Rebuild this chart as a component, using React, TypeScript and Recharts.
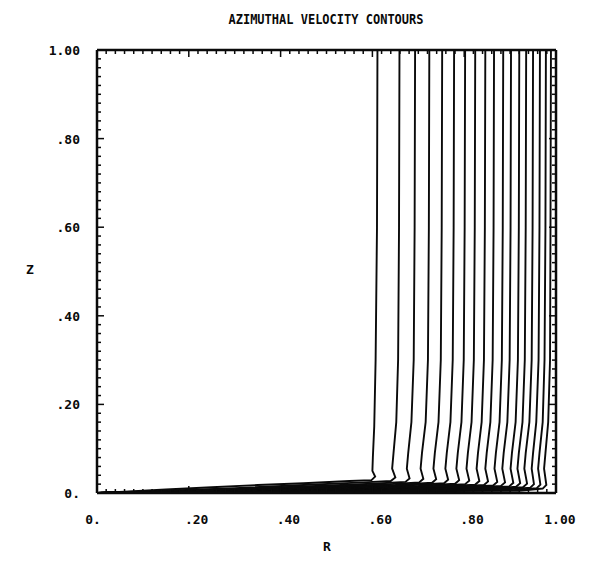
import React from 'react';
import { LineChart, Line, XAxis, YAxis } from 'recharts';

const TITLE = 'AZIMUTHAL VELOCITY CONTOURS';
const MAJOR_TICKS = [0, 0.2, 0.4, 0.6, 0.8, 1.0];
const R_LABELS = ['0.', '.20', '.40', '.60', '.80', '1.00'];
const Z_LABELS = ['0.', '.20', '.40', '.60', '.80', '1.00'];
// minor tick marks every .02 on all four sides of the frame
const MINOR_TICKS = Array.from({ length: 51 }, (_, i) => (i * 2) / 100);

// contour lines, [R, Z], top of the line first
const C01 = [[0.611, 1], [0.61, 0.6], [0.607, 0.3], [0.604, 0.15], [0.601, 0.08], [0.6, 0.05], [0.606, 0.037], [0.598, 0.029], [0.55, 0.027], [0.45, 0.022], [0.35, 0.018], [0.25, 0.013], [0.15, 0.008], [0.06, 0.003], [0, 0]];
const C02 = [[0.659, 1], [0.658, 0.6], [0.656, 0.3], [0.652, 0.16], [0.646, 0.09], [0.643, 0.055], [0.65, 0.035], [0.64, 0.027], [0.58, 0.024], [0.45, 0.018], [0.3, 0.011], [0.15, 0.005], [0, 0]];
const C03 = [[0.693, 1], [0.692, 0.6], [0.69, 0.3], [0.685, 0.16], [0.678, 0.09], [0.675, 0.055], [0.681, 0.033], [0.672, 0.025], [0.6, 0.021], [0.45, 0.015], [0.3, 0.009], [0.15, 0.004], [0, 0]];
const C04 = [[0.724, 1], [0.723, 0.6], [0.721, 0.3], [0.716, 0.16], [0.708, 0.09], [0.705, 0.055], [0.711, 0.032], [0.702, 0.024], [0.62, 0.019], [0.45, 0.013], [0.3, 0.008], [0.15, 0.004], [0, 0]];
const C05 = [[0.752, 1], [0.751, 0.6], [0.749, 0.3], [0.744, 0.16], [0.736, 0.09], [0.733, 0.055], [0.739, 0.031], [0.73, 0.023], [0.65, 0.018], [0.45, 0.011], [0.3, 0.007], [0.15, 0.003], [0, 0]];
const C06 = [[0.778, 1], [0.777, 0.6], [0.775, 0.3], [0.77, 0.16], [0.762, 0.09], [0.759, 0.055], [0.765, 0.03], [0.756, 0.022], [0.67, 0.017], [0.5, 0.011], [0.3, 0.006], [0.15, 0.003], [0, 0]];
const C07 = [[0.802, 1], [0.801, 0.6], [0.799, 0.3], [0.794, 0.16], [0.786, 0.09], [0.783, 0.055], [0.789, 0.029], [0.78, 0.021], [0.7, 0.016], [0.5, 0.01], [0.3, 0.005], [0.15, 0.002], [0, 0]];
const C08 = [[0.824, 1], [0.823, 0.6], [0.821, 0.3], [0.816, 0.16], [0.808, 0.09], [0.805, 0.055], [0.811, 0.028], [0.802, 0.02], [0.72, 0.015], [0.5, 0.009], [0.3, 0.005], [0.15, 0.002], [0, 0]];
const C09 = [[0.846, 1], [0.845, 0.6], [0.843, 0.3], [0.838, 0.16], [0.83, 0.09], [0.827, 0.055], [0.833, 0.027], [0.824, 0.019], [0.74, 0.014], [0.5, 0.008], [0.3, 0.004], [0.15, 0.002], [0, 0]];
const C10 = [[0.865, 1], [0.864, 0.6], [0.862, 0.3], [0.857, 0.16], [0.849, 0.09], [0.846, 0.055], [0.852, 0.026], [0.843, 0.018], [0.76, 0.013], [0.5, 0.007], [0.3, 0.004], [0.15, 0.002], [0, 0]];
const C11 = [[0.885, 1], [0.884, 0.6], [0.882, 0.3], [0.877, 0.16], [0.869, 0.09], [0.866, 0.055], [0.872, 0.025], [0.863, 0.017], [0.78, 0.012], [0.5, 0.006], [0.3, 0.003], [0.15, 0.001], [0, 0]];
const C12 = [[0.902, 1], [0.901, 0.6], [0.899, 0.3], [0.894, 0.16], [0.886, 0.09], [0.883, 0.055], [0.889, 0.024], [0.88, 0.016], [0.8, 0.011], [0.5, 0.006], [0.3, 0.003], [0.15, 0.001], [0, 0]];
const C13 = [[0.92, 1], [0.919, 0.6], [0.917, 0.3], [0.912, 0.16], [0.904, 0.09], [0.901, 0.055], [0.907, 0.023], [0.898, 0.015], [0.82, 0.01], [0.5, 0.005], [0.3, 0.003], [0.15, 0.001], [0, 0]];
const C14 = [[0.935, 1], [0.934, 0.6], [0.932, 0.3], [0.927, 0.16], [0.919, 0.09], [0.916, 0.055], [0.922, 0.022], [0.913, 0.014], [0.84, 0.009], [0.5, 0.005], [0.3, 0.002], [0.15, 0.001], [0, 0]];
const C15 = [[0.95, 1], [0.949, 0.6], [0.947, 0.3], [0.942, 0.16], [0.934, 0.09], [0.931, 0.055], [0.937, 0.021], [0.928, 0.013], [0.86, 0.008], [0.5, 0.004], [0.3, 0.002], [0.15, 0.001], [0, 0]];
const C16 = [[0.965, 1], [0.964, 0.6], [0.962, 0.3], [0.957, 0.16], [0.95, 0.09], [0.947, 0.055], [0.952, 0.02], [0.944, 0.012], [0.88, 0.007], [0.5, 0.004], [0.3, 0.002], [0.15, 0.001], [0, 0]];
const C17 = [[0.978, 1], [0.977, 0.6], [0.975, 0.3], [0.971, 0.16], [0.964, 0.09], [0.961, 0.055], [0.966, 0.019], [0.958, 0.011], [0.9, 0.006], [0.5, 0.003], [0.3, 0.002], [0.15, 0.001], [0, 0]];
const C18 = [[0.989, 1], [0.988, 0.6], [0.987, 0.3], [0.983, 0.16], [0.977, 0.09], [0.974, 0.055], [0.979, 0.018], [0.971, 0.01], [0.92, 0.005], [0.5, 0.003], [0.3, 0.001], [0.15, 0.0005], [0, 0]];

const CONTOURS = [C01, C02, C03, C04, C05, C06, C07, C08, C09, C10, C11, C12, C13, C14, C15, C16, C17, C18];

const INK = '#0a0a0a';
const FONT = '"DejaVu Sans Mono", monospace';
const FS = 13;
const CHAR_W = FS * 0.602;

function majorIndex(v: number) {
  return MAJOR_TICKS.findIndex((m) => Math.abs(m - v) < 1e-6);
}

function BottomTick(props: any) {
  const { x, y, payload } = props;
  const i = majorIndex(payload.value);
  const label = i >= 0 ? R_LABELS[i] : null;
  const dot = label ? label.indexOf('.') : 0;
  return (
    <g>
      <line x1={x} y1={y} x2={x} y2={y - (i >= 0 ? 7 : 4)} stroke={INK} strokeWidth={1.5} />
      {label && (
        <text x={x - (dot + 0.5) * CHAR_W} y={y + 31} fontFamily={FONT} fontWeight="bold" fontSize={FS} fill={INK}>
          {label}
        </text>
      )}
    </g>
  );
}

function TopTick(props: any) {
  const { x, y, payload } = props;
  const i = majorIndex(payload.value);
  return <line x1={x} y1={y} x2={x} y2={y + (i >= 0 ? 7 : 4)} stroke={INK} strokeWidth={1.5} />;
}

function LeftTick(props: any) {
  const { x, y, payload } = props;
  const i = majorIndex(payload.value);
  const label = i >= 0 ? Z_LABELS[i] : null;
  return (
    <g>
      <line x1={x} y1={y} x2={x + (i >= 0 ? 7 : 4)} y2={y} stroke={INK} strokeWidth={1.5} />
      {label && (
        <text x={x - 17} y={y + 5} textAnchor="end" fontFamily={FONT} fontWeight="bold" fontSize={FS} fill={INK}>
          {label}
        </text>
      )}
    </g>
  );
}

function RightTick(props: any) {
  const { x, y, payload } = props;
  const i = majorIndex(payload.value);
  return <line x1={x} y1={y} x2={x - (i >= 0 ? 7 : 4)} y2={y} stroke={INK} strokeWidth={1.5} />;
}

const textStyle: React.CSSProperties = {
  position: 'absolute',
  fontFamily: FONT,
  fontWeight: 'bold',
  fontSize: FS,
  lineHeight: '14px',
  color: INK,
  textAlign: 'center',
};

export default function App() {
  const frame = { stroke: INK, strokeWidth: 2.5 };
  const axisCommon = {
    type: 'number' as const,
    domain: [0, 1] as [number, number],
    ticks: MINOR_TICKS,
    interval: 0 as const,
    tickSize: 0,
    tickMargin: 0,
    tickLine: false,
    axisLine: frame,
    allowDataOverflow: true,
  };
  return (
    <div style={{ position: 'relative', width: 578, height: 567, background: '#fff' }}>
      <div style={{ ...textStyle, left: 118, width: 400, top: 4, fontSize: 12, transform: 'scaleY(1.15)' }}>{TITLE}</div>
      <div style={{ ...textStyle, left: 309, width: 20, top: 532 }}>R</div>
      <div style={{ ...textStyle, left: 12, width: 20, top: 255 }}>Z</div>
      <LineChart width={578} height={567} margin={{ top: 32, right: 20, bottom: 22, left: 0 }}>
        <XAxis xAxisId="bottom" orientation="bottom" dataKey="r" height={60} tick={BottomTick} {...axisCommon} />
        <XAxis xAxisId="top" orientation="top" dataKey="r" height={10} tick={TopTick} {...axisCommon} />
        <YAxis yAxisId="left" orientation="left" width={89} tick={LeftTick} {...axisCommon} />
        <YAxis yAxisId="right" orientation="right" width={10} tick={RightTick} {...axisCommon} />
        {CONTOURS.map((c, k) => (
          <Line
            key={k}
            xAxisId={k === 0 ? 'top' : 'bottom'}
            yAxisId={k === 0 ? 'right' : 'left'}
            data={c.map(([r, z]) => ({ r, z }))}
            dataKey="z"
            type="linear"
            dot={false}
            activeDot={false}
            stroke={INK}
            strokeWidth={1.9}
            isAnimationActive={false}
          />
        ))}
      </LineChart>
    </div>
  );
}
